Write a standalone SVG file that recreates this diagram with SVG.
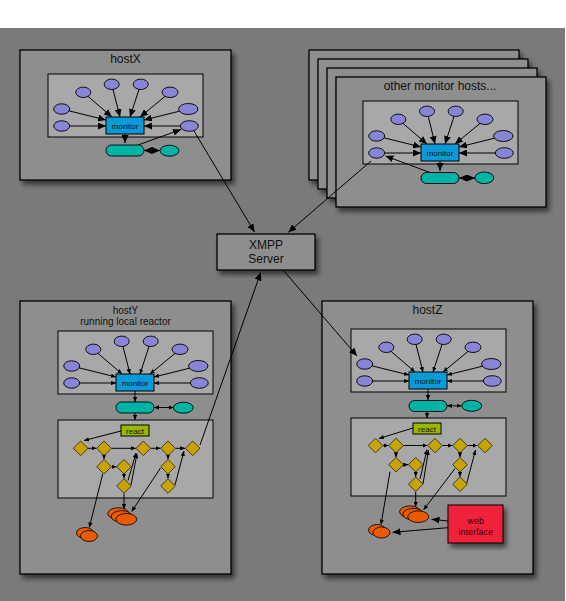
<svg xmlns="http://www.w3.org/2000/svg" width="566" height="601" viewBox="0 0 566 601">
<defs>
<style>
.bg{fill:#7a7a7a}
.host{fill:#8e8e8f;stroke:#000;stroke-width:1.3;filter:url(#sh)}
.inner{fill:#a8a8a8;stroke:#000;stroke-width:1}
.title{font-family:"Liberation Sans",Arial,sans-serif;font-size:12px;fill:#111;text-anchor:middle}
.sub{font-family:"Liberation Sans",Arial,sans-serif;font-size:10px;fill:#111;text-anchor:middle}
.small{font-family:"Liberation Sans",Arial,sans-serif;font-size:8px;fill:#111;text-anchor:middle}
.web{font-family:"Liberation Sans",Arial,sans-serif;font-size:9px;fill:#3a0008;text-anchor:middle}
.src{fill:#8a84d6;stroke:#000;stroke-width:0.9}
.mon{fill:#0a9ad8;stroke:#000;stroke-width:1}
.pill{fill:#00b3a4;stroke:#000;stroke-width:0.9}
.dia{fill:#c9a300;stroke:#222;stroke-width:0.8}
.out{fill:#ea5a00;stroke:#000;stroke-width:0.8}
.react{fill:#99b800;stroke:#000;stroke-width:1}
.wi{fill:#f0243a;stroke:#000;stroke-width:1;filter:url(#sh)}
.c{fill:none;stroke:#000;stroke-width:1}
.cb{marker-end:url(#ab)}
.cs{marker-end:url(#as)}
.db{marker-start:url(#ab);marker-end:url(#ab)}
.ds{marker-start:url(#as);marker-end:url(#as)}
</style>
<filter id="sh" x="-10%" y="-10%" width="130%" height="130%">
<feDropShadow dx="3" dy="4" stdDeviation="2.5" flood-color="#000" flood-opacity="0.55"/>
</filter>
<marker id="ab" viewBox="0 0 8 7" refX="8" refY="3.5" markerWidth="8" markerHeight="7" orient="auto-start-reverse" markerUnits="userSpaceOnUse"><path d="M0,0L8,3.5L0,7z" fill="#000"/></marker>
<marker id="as" viewBox="0 0 5 4.4" refX="5" refY="2.2" markerWidth="5" markerHeight="4.4" orient="auto-start-reverse" markerUnits="userSpaceOnUse"><path d="M0,0L5,2.2L0,4.4z" fill="#000"/></marker>
</defs>

<rect x="0" y="0" width="566" height="601" fill="#fff"/>
<rect class="bg" x="0" y="28" width="565" height="573"/>

<!-- containers -->
<g id="hostX">
<rect class="host" x="20" y="50" width="211" height="130"/>
<text class="title" x="125.5" y="63">hostX</text>
<rect class="inner" x="48" y="74" width="155" height="63"/>
</g>
<g id="other-hosts">
<rect class="host" x="309" y="50" width="210" height="130"/>
<rect class="host" x="318" y="59" width="210" height="130"/>
<rect class="host" x="327" y="68" width="210" height="130"/>
<rect class="host" x="336" y="77" width="210" height="130"/>
<text class="title" x="440" y="90">other monitor hosts...</text>
<rect class="inner" x="363" y="101" width="155" height="63"/>
</g>
<g id="xmpp">
<rect class="host" x="217" y="234" width="98" height="36"/>
<text class="title" x="266" y="249">XMPP</text>
<text class="title" x="266" y="263">Server</text>
</g>
<g id="hostY">
<rect class="host" x="20" y="301" width="211" height="273"/>
<text class="sub" x="125.5" y="313.5">hostY</text>
<text class="sub" x="125.5" y="325">running local reactor</text>
<rect class="inner" x="58" y="331" width="155" height="63"/>
<rect class="inner" x="58" y="420" width="155" height="78"/>
</g>
<g id="hostZ">
<rect class="host" x="322" y="301" width="211" height="273"/>
<text class="title" x="427.5" y="313.5">hostZ</text>
<rect class="inner" x="351" y="329" width="155" height="63"/>
<rect class="inner" x="351" y="418" width="155" height="78"/>
</g>

<!-- connectors -->
<g id="connectors" class="c">
<!-- hostX cluster -->
<path class="cb" d="M83.3,92.3L112,117"/>
<path class="cb" d="M111.7,84.3L120,117"/>
<path class="cb" d="M140.7,84.3L130,117"/>
<path class="cb" d="M170,92.3L140,117"/>
<path class="cb" d="M61.7,109L106,120"/>
<path class="cb" d="M188.3,109L144,120"/>
<path class="cb" d="M61.7,126L106,126"/>
<path class="cb" d="M189.3,126L144,126"/>
<path class="cb" d="M125,134L125,143"/>
<path class="db" d="M144,150.5L160,150.5"/>
<path class="cb" d="M138,145L181,129.5"/>
<path class="cb" d="M194,131L254.5,232"/>
<!-- other hosts cluster -->
<path class="cb" d="M398.3,119.3L427,144"/>
<path class="cb" d="M427,111.3L435,144"/>
<path class="cb" d="M455.7,111.3L445,144"/>
<path class="cb" d="M485,119.3L455,144"/>
<path class="cb" d="M376.7,136L421,147"/>
<path class="cb" d="M503.3,136L459,147"/>
<path class="cb" d="M376.7,153L421,153"/>
<path class="cb" d="M504.3,153L459,153"/>
<path class="cb" d="M440,161L440,171"/>
<path class="db" d="M459,178L475,178"/>
<path class="cb" d="M430,172.5L385.5,156"/>
<path class="cb" d="M371,161L288.3,232.3"/>
<!-- hostY cluster -->
<path class="cs" d="M93.3,349.3L122,374"/>
<path class="cs" d="M121.7,341.3L130,374"/>
<path class="cs" d="M150.7,341.3L140,374"/>
<path class="cs" d="M180,349.3L150,374"/>
<path class="cs" d="M71.7,366L116,377"/>
<path class="cs" d="M198.3,366L154,377"/>
<path class="cs" d="M71.7,383L116,383"/>
<path class="cs" d="M199.3,383L154,383"/>
<path class="cs" d="M135,391L135,402"/>
<path class="ds" d="M154,407.5L173.5,407.5"/>
<path class="cs" d="M135,413L135,420"/>
<path class="cs" d="M121,431L84,440.5"/>
<path class="cs" d="M88,448.3L96.5,448.3"/>
<path class="cs" d="M111.5,448.3L135.8,448.3"/>
<path class="cs" d="M150.8,448.3L160.5,448.3"/>
<path class="cs" d="M175.5,448.3L185.2,448.3"/>
<path class="cs" d="M104,455.8L104,459.2"/>
<path class="cs" d="M168,455.8L168,459.2"/>
<path class="cs" d="M111.5,466.7L116.5,466.7"/>
<path class="cs" d="M124,474.2L124,478.5"/>
<path class="cs" d="M168,474.2L168,478.5"/>
<path class="cs" d="M131,485L137,453.5"/>
<path class="cs" d="M128,480.5L136,453"/>
<path class="cs" d="M102.7,474L89.3,527.5"/>
<path class="cs" d="M124,493.5L124,509"/>
<path class="cs" d="M160.5,468L131.7,511.5"/>
<path class="cs" d="M175,485L184,451"/>
<path class="cb" d="M200,445L260.7,272.5"/>
<!-- XMPP to hostZ -->
<path class="cb" d="M283.5,270.5L357,356"/>
<!-- hostZ cluster -->
<path class="cs" d="M386.3,347.3L415,372"/>
<path class="cs" d="M414.7,339.3L423,372"/>
<path class="cs" d="M443.7,339.3L433,372"/>
<path class="cs" d="M473,347.3L443,372"/>
<path class="cs" d="M364.7,364L409,375"/>
<path class="cs" d="M491.3,364L447,375"/>
<path class="cs" d="M364.7,381L409,381"/>
<path class="cs" d="M492.3,381L447,381"/>
<path class="cs" d="M428,389L428,400"/>
<path class="ds" d="M447,405.8L461.5,405.8"/>
<path class="cs" d="M427,411.5L427,418"/>
<path class="cs" d="M413,428L379,438.5"/>
<path class="cs" d="M383,445.5L388.5,445.5"/>
<path class="cs" d="M403.5,445.5L427.5,445.5"/>
<path class="cs" d="M442.5,445.5L452.5,445.5"/>
<path class="cs" d="M467.5,445.5L477.5,445.5"/>
<path class="cs" d="M396,453L396,457.2"/>
<path class="cs" d="M460,453L460,457.2"/>
<path class="cs" d="M403,464.7L408.2,464.7"/>
<path class="cs" d="M415.7,472.2L415.7,476.7"/>
<path class="cs" d="M460,472.2L460,476.7"/>
<path class="cs" d="M423,484L428.5,450"/>
<path class="cs" d="M420,479L427,449.5"/>
<path class="cs" d="M390,471.7L381,524.5"/>
<path class="cs" d="M415.7,491.7L415.7,506.5"/>
<path class="cs" d="M455,468.5L423.5,510"/>
<path class="cs" d="M466.7,483.3L475.5,450"/>
<path class="cb" d="M448,521L431.5,519.3"/>
<path class="cb" d="M448,527.7L392.5,532.3"/>
</g>

<!-- hostX nodes -->
<g id="hostX-sources">
<ellipse class="src" cx="83.3" cy="92.3" rx="7.5" ry="5.2"/>
<ellipse class="src" cx="111.7" cy="84.3" rx="7.5" ry="5.2"/>
<ellipse class="src" cx="140.7" cy="84.3" rx="7.5" ry="5.2"/>
<ellipse class="src" cx="170" cy="92.3" rx="8" ry="5.2"/>
<ellipse class="src" cx="61.7" cy="109" rx="8" ry="5.2"/>
<ellipse class="src" cx="188.3" cy="109" rx="9.7" ry="5.5"/>
<ellipse class="src" cx="61.7" cy="126" rx="8" ry="5.2"/>
<ellipse class="src" cx="189.3" cy="126" rx="9" ry="5.3"/>
</g>
<g id="hostX-monitor"><rect class="mon" x="106" y="117" width="38" height="17"/><text class="small" x="125" y="128.5">monitor</text></g>
<g id="hostX-pill"><rect class="pill" x="106" y="145" width="38" height="11" rx="5.5"/></g>
<g id="hostX-peer"><ellipse class="pill" cx="169.5" cy="150.7" rx="9.5" ry="5.5"/></g>

<!-- other hosts nodes -->
<g id="other-sources">
<ellipse class="src" cx="398.3" cy="119.3" rx="7.5" ry="5.2"/>
<ellipse class="src" cx="427" cy="111.3" rx="7.5" ry="5.2"/>
<ellipse class="src" cx="455.7" cy="111.3" rx="7.5" ry="5.2"/>
<ellipse class="src" cx="485" cy="119.3" rx="8" ry="5.2"/>
<ellipse class="src" cx="376.7" cy="136" rx="8" ry="5.2"/>
<ellipse class="src" cx="503.3" cy="136" rx="9.7" ry="5.5"/>
<ellipse class="src" cx="376.7" cy="153" rx="8" ry="5.2"/>
<ellipse class="src" cx="504.3" cy="153" rx="9" ry="5.3"/>
</g>
<g id="other-monitor"><rect class="mon" x="421" y="144" width="38" height="17"/><text class="small" x="440" y="155.5">monitor</text></g>
<g id="other-pill"><rect class="pill" x="421" y="172.5" width="38" height="11" rx="5.5"/></g>
<g id="other-peer"><ellipse class="pill" cx="484.3" cy="177.8" rx="9.5" ry="5.8"/></g>

<!-- hostY nodes -->
<g id="hostY-sources">
<ellipse class="src" cx="93.3" cy="349.3" rx="7.5" ry="5.2"/>
<ellipse class="src" cx="121.7" cy="341.3" rx="7.5" ry="5.2"/>
<ellipse class="src" cx="150.7" cy="341.3" rx="7.5" ry="5.2"/>
<ellipse class="src" cx="180" cy="349.3" rx="8" ry="5.2"/>
<ellipse class="src" cx="71.7" cy="366" rx="8" ry="5.2"/>
<ellipse class="src" cx="198.3" cy="366" rx="9.7" ry="5.5"/>
<ellipse class="src" cx="71.7" cy="383" rx="8" ry="5.2"/>
<ellipse class="src" cx="199.3" cy="383" rx="9" ry="5.3"/>
</g>
<g id="hostY-monitor"><rect class="mon" x="116" y="374" width="38" height="17"/><text class="small" x="135" y="385.5">monitor</text></g>
<g id="hostY-pill"><rect class="pill" x="116" y="402" width="38" height="11" rx="5.5"/></g>
<g id="hostY-peer"><ellipse class="pill" cx="183.3" cy="407.7" rx="10" ry="5.5"/></g>
<g id="hostY-react"><rect class="react" x="121" y="425" width="28" height="11"/><text class="small" x="135" y="433.5">react</text></g>
<g id="hostY-rules">
<path class="dia" d="M80.7,441L88,448.3L80.7,455.6L73.4,448.3z"/>
<path class="dia" d="M104,441L111.3,448.3L104,455.6L96.7,448.3z"/>
<path class="dia" d="M143.3,441L150.6,448.3L143.3,455.6L136,448.3z"/>
<path class="dia" d="M168,441L175.3,448.3L168,455.6L160.7,448.3z"/>
<path class="dia" d="M192.7,441L200,448.3L192.7,455.6L185.4,448.3z"/>
<path class="dia" d="M104,459.4L111.3,466.7L104,474L96.7,466.7z"/>
<path class="dia" d="M124,459.4L131.3,466.7L124,474L116.7,466.7z"/>
<path class="dia" d="M124,478.7L131.3,486L124,493.3L116.7,486z"/>
<path class="dia" d="M168,459.4L175.3,466.7L168,474L160.7,466.7z"/>
<path class="dia" d="M168,478.7L175.3,486L168,493.3L160.7,486z"/>
</g>
<g id="hostY-outputs">
<ellipse class="out" cx="118.3" cy="513.5" rx="10.5" ry="5.8"/>
<ellipse class="out" cx="121.7" cy="516.5" rx="10.5" ry="5.8"/>
<ellipse class="out" cx="126.3" cy="519.3" rx="10.5" ry="5.8"/>
<ellipse class="out" cx="85" cy="533" rx="8.5" ry="5.5"/>
<ellipse class="out" cx="89" cy="536" rx="8.5" ry="5.5"/>
</g>

<!-- hostZ nodes -->
<g id="hostZ-sources">
<ellipse class="src" cx="386.3" cy="347.3" rx="7.5" ry="5.2"/>
<ellipse class="src" cx="414.7" cy="339.3" rx="7.5" ry="5.2"/>
<ellipse class="src" cx="443.7" cy="339.3" rx="7.5" ry="5.2"/>
<ellipse class="src" cx="473" cy="347.3" rx="8" ry="5.2"/>
<ellipse class="src" cx="364.7" cy="364" rx="8" ry="5.2"/>
<ellipse class="src" cx="491.3" cy="364" rx="9.7" ry="5.5"/>
<ellipse class="src" cx="364.7" cy="381" rx="8" ry="5.2"/>
<ellipse class="src" cx="492.3" cy="381" rx="9" ry="5.3"/>
</g>
<g id="hostZ-monitor"><rect class="mon" x="409" y="372" width="38" height="17"/><text class="small" x="428" y="383.5">monitor</text></g>
<g id="hostZ-pill"><rect class="pill" x="409" y="400.5" width="38" height="11" rx="5.5"/></g>
<g id="hostZ-peer"><ellipse class="pill" cx="471.7" cy="405.8" rx="10" ry="5.5"/></g>
<g id="hostZ-react"><rect class="react" x="413" y="423" width="28" height="11"/><text class="small" x="427" y="431.5">react</text></g>
<g id="hostZ-rules">
<path class="dia" d="M375.5,438.2L382.8,445.5L375.5,452.8L368.2,445.5z"/>
<path class="dia" d="M396,438.2L403.3,445.5L396,452.8L388.7,445.5z"/>
<path class="dia" d="M435,438.2L442.3,445.5L435,452.8L427.7,445.5z"/>
<path class="dia" d="M460,438.2L467.3,445.5L460,452.8L452.7,445.5z"/>
<path class="dia" d="M485,438.2L492.3,445.5L485,452.8L477.7,445.5z"/>
<path class="dia" d="M396,457.4L403.3,464.7L396,472L388.7,464.7z"/>
<path class="dia" d="M415.7,457.4L423,464.7L415.7,472L408.4,464.7z"/>
<path class="dia" d="M415.7,476.9L423,484.2L415.7,491.5L408.4,484.2z"/>
<path class="dia" d="M460,457.4L467.3,464.7L460,472L452.7,464.7z"/>
<path class="dia" d="M460,476.9L467.3,484.2L460,491.5L452.7,484.2z"/>
</g>
<g id="hostZ-outputs">
<ellipse class="out" cx="410" cy="511.7" rx="10.5" ry="5.8"/>
<ellipse class="out" cx="413.3" cy="514.2" rx="10.5" ry="5.8"/>
<ellipse class="out" cx="418.3" cy="516.7" rx="10.5" ry="5.8"/>
<ellipse class="out" cx="377" cy="530" rx="8.5" ry="5.5"/>
<ellipse class="out" cx="381.5" cy="532.5" rx="8.5" ry="5.5"/>
</g>
<g id="web-interface">
<rect class="wi" x="448" y="505" width="55" height="38"/>
<text class="web" x="475.7" y="523.5">web</text>
<text class="web" x="475.7" y="534.5">interface</text>
</g>
</svg>
